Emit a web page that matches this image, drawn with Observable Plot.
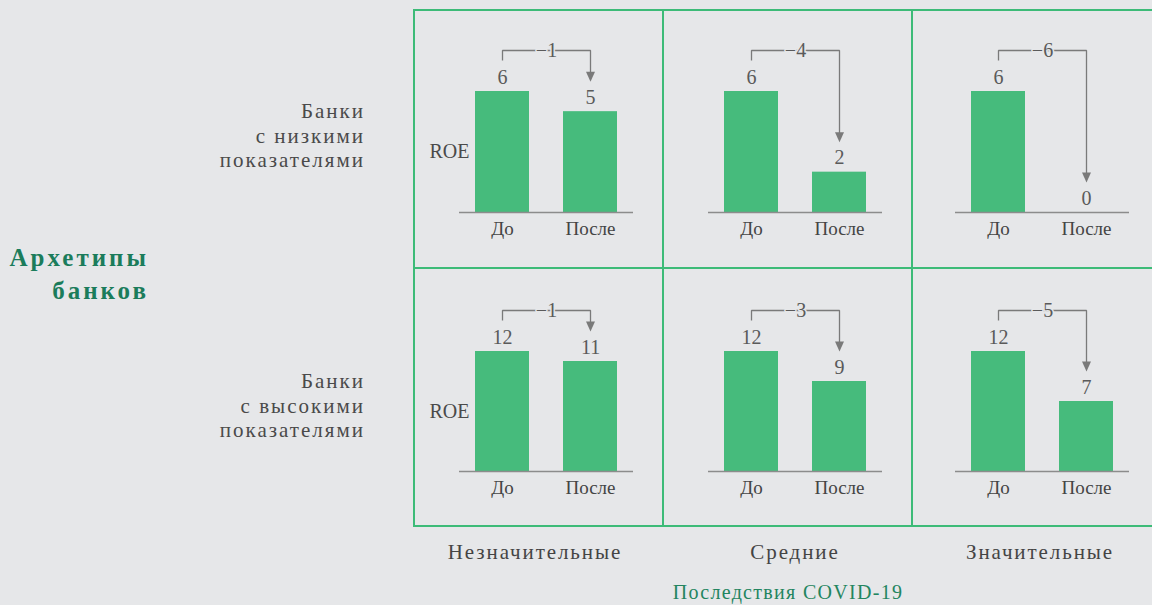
<!DOCTYPE html>
<html>
<head>
<meta charset="utf-8">
<script src="https://cdn.jsdelivr.net/npm/d3@7"></script>
<script src="https://cdn.jsdelivr.net/npm/@observablehq/plot@0.6"></script>
<style>
  html, body { margin: 0; padding: 0; background: #e6e7e9; }
  #wrap { position: relative; width: 1152px; height: 605px; background: #e6e7e9; overflow: hidden;
          font-family: "Liberation Serif", "Tinos", "Times New Roman", "DejaVu Serif", serif; color: #555; }
  .panel { position: absolute; width: 249px; height: 258px; }
  .panel svg { max-width: none !important; }
  .lbl { position: absolute; white-space: nowrap; }
  .rowlbl { text-align: right; font-size: 21px; line-height: 24.5px; letter-spacing: 2px; color: #4a4a4a; }
  .collbl { font-size: 21px; line-height: 24px; letter-spacing: 1.9px; color: #444; transform: translateX(-50%); }
  .arch { text-align: right; font-size: 25px; font-weight: bold; line-height: 33px; letter-spacing: 3px; color: #1b7c5b; }
  .covid { font-size: 20px; line-height: 20px; color: #23855f; transform: translateX(-50%); letter-spacing: 1.3px; }
</style>
</head>
<body>
<div id="wrap"></div>
<script>
// ---- data ----
const columns = ["Незначительные", "Средние", "Значительные"];
const rowLabels = [["Банки", "с низкими", "показателями"], ["Банки", "с высокими", "показателями"]];
const periods = ["До", "После"];
const beforeValues = [[6, 6, 6], [12, 12, 12]];
const afterValues = [[5, 2, 0], [11, 9, 7]];
const rowMax = [6, 12];
const yAxisLabel = "ROE";
const groupTitle = ["Архетипы", "банков"];
const xTitle = "Последствия COVID-19";

// ---- layout ----
const gridLeft = 414, gridTop = 10, panelW = 249, panelH = 258;
const panelLefts = [414, 663, 910];
const green = "#3dbb78", barGreen = "#46bb7c", gray = "#7a7a7a", textGray = "#5a5a5a";
const font = '"Liberation Serif", "Tinos", "Times New Roman", "DejaVu Serif", serif';

const wrap = d3.select("#wrap");

// custom curve: bracket from bar 1 top to bar 2 top (pixel offsets)
function bracketCurve(context) {
  let pts;
  return {
    areaStart() {}, areaEnd() {},
    lineStart() { pts = []; },
    point(x, y) { pts.push([x, y]); },
    lineEnd() {
      const [[x0, y0], [x1, y1]] = pts;
      const top = Math.min(y0, y1) - 41;
      context.moveTo(x0, y0 - 31);
      context.lineTo(x0, top);
      context.lineTo(x1, top);
      context.lineTo(x1, y1 - 39);
    }
  };
}
function arrowCurve(context) {
  let pts;
  return {
    areaStart() {}, areaEnd() {},
    lineStart() { pts = []; },
    point(x, y) { pts.push([x, y]); },
    lineEnd() {
      const [x, y] = pts[0];
      context.moveTo(x - 4.5, y - 40);
      context.lineTo(x + 4.5, y - 40);
      context.lineTo(x, y - 30);
      context.closePath();
    }
  };
}

for (let r = 0; r < 2; r++) {
  for (let c = 0; c < 3; c++) {
    const b = beforeValues[r][c], a = afterValues[r][c];
    const data = [{period: periods[0], value: b}, {period: periods[1], value: a}];
    const pair = [{b, a}];
    const marginTop = r === 0 ? 81 : 83;
    const marginBottom = r === 0 ? 56 : 55;
    const marks = [
      Plot.barY(data, {x: "period", y: "value", fill: barGreen}),
      Plot.ruleY([0], {stroke: "#8c8c8c", strokeWidth: 1.5}),
      Plot.text(data, {x: "period", y: "value", text: d => String(d.value), dy: -8, lineAnchor: "bottom",
                       fontSize: 20, fill: textGray, fontFamily: font}),
      Plot.link(pair, {x1: () => periods[0], y1: "b", x2: () => periods[1], y2: "a",
                       curve: bracketCurve, stroke: gray, strokeWidth: 1.3}),
      Plot.link(pair, {x1: () => periods[1], y1: "a", x2: () => periods[1], y2: "a",
                       curve: arrowCurve, stroke: "none", fill: gray}),
      Plot.text(pair, {y: "b", text: d => "−" + (d.b - d.a), dy: -41, frameAnchor: "middle",
                       fontSize: 20, fill: textGray, fontFamily: font,
                       stroke: "#e6e7e9", strokeWidth: 3, paintOrder: "stroke"}),
      Plot.axisX({tickSize: 0, tickPadding: 9, fontSize: 19, fill: "#444", fontFamily: font, label: null,
                  style: "letter-spacing: 1px"})
    ];
    if (c === 0) {
      marks.push(Plot.text([yAxisLabel], {text: d => d, y: () => rowMax[r] / 2, frameAnchor: "left", dx: 10,
                                          textAnchor: "end", fontSize: 20, fill: "#4a4a4a", fontFamily: font}));
    }
    const chart = Plot.plot({
      width: panelW, height: panelH,
      marginTop, marginBottom, marginLeft: 45, marginRight: 30,
      x: {domain: periods, range: [27, 237], padding: 0.386, axis: null},
      y: {domain: [0, rowMax[r]], axis: null},
      style: {background: "transparent", overflow: "visible", fontFamily: font, maxWidth: "none"},
      marks
    });
    wrap.append("div").attr("class", "panel")
      .style("left", panelLefts[c] + "px")
      .style("top", (gridTop + r * panelH) + "px")
      .node().appendChild(chart);
  }
}

// grid lines (decoration)
const svg = wrap.append("svg").attr("width", 1152).attr("height", 605)
  .style("position", "absolute").style("left", 0).style("top", 0).style("pointer-events", "none");
[0, 1, 2].forEach(i => svg.append("line")
  .attr("x1", gridLeft + i * panelW).attr("x2", gridLeft + i * panelW)
  .attr("y1", gridTop).attr("y2", gridTop + 2 * panelH)
  .attr("stroke", green).attr("stroke-width", 2));
[0, 1, 2].forEach(i => svg.append("line")
  .attr("x1", gridLeft - 1).attr("x2", 1160)
  .attr("y1", gridTop + i * panelH).attr("y2", gridTop + i * panelH)
  .attr("stroke", green).attr("stroke-width", 2));

// row labels
const rowTops = [99, 369];
rowLabels.forEach((lines, r) => {
  wrap.append("div").attr("class", "lbl rowlbl")
    .style("right", (1152 - 365) + "px").style("top", rowTops[r] + "px")
    .html(lines.join("<br>"));
});
wrap.append("div").attr("class", "lbl arch")
  .style("right", (1152 - 149) + "px").style("top", 241 + "px")
  .html(groupTitle.join("<br>"));

// column labels
const colCenters = [535, 795, 1040];
columns.forEach((t, i) => {
  wrap.append("div").attr("class", "lbl collbl")
    .style("left", colCenters[i] + "px").style("top", 540 + "px").text(t);
});
wrap.append("div").attr("class", "lbl covid")
  .style("left", 788 + "px").style("top", 582 + "px").text(xTitle);
</script>
</body>
</html>
